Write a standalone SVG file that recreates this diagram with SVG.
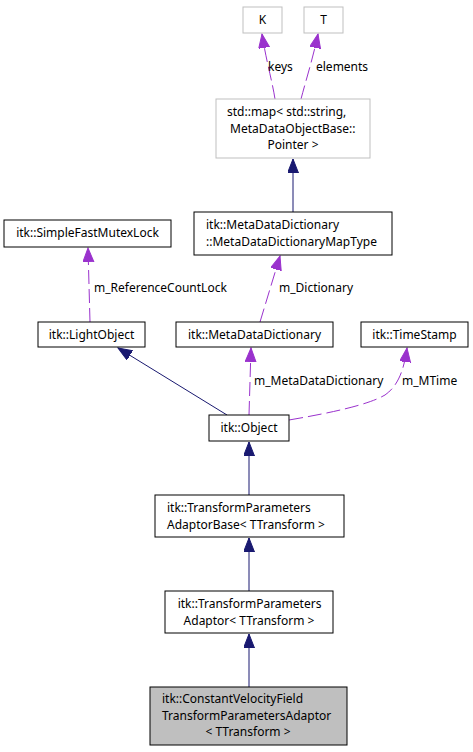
<svg xmlns="http://www.w3.org/2000/svg" width="473" height="752" viewBox="0 0 473 752">
<defs>
<style>
text{font-family:"Noto Sans","Open Sans","DejaVu Sans",sans-serif;font-size:12px;fill:#000}
.n rect{fill:#fff;stroke:#000;stroke-width:1}
.g rect{fill:#fff;stroke:#bfbfbf;stroke-width:1}
.m{text-anchor:middle}
.inh{fill:none;stroke:#191970;stroke-width:1}
.use{fill:none;stroke:#9a32cd;stroke-width:1;stroke-dasharray:14,5}
</style>
<marker id="an" markerUnits="userSpaceOnUse" markerWidth="15" markerHeight="12" refX="14" refY="5.5" orient="auto"><path d="M0,0 L14,5.5 L0,11 z" fill="#191970" stroke="#191970"/></marker>
<marker id="ap" markerUnits="userSpaceOnUse" markerWidth="15" markerHeight="12" refX="14" refY="5.5" orient="auto"><path d="M0,0 L14,5.5 L0,11 z" fill="#9a32cd" stroke="#9a32cd"/></marker>
</defs>
<g id="connectors">
<path class="use" d="M275,99 C272,80 266,60 262,34" marker-end="url(#ap)"/>
<path class="use" d="M301,99 C306,80 313,58 318,34" marker-end="url(#ap)"/>
<path class="inh" d="M293,212 L293,159" marker-end="url(#an)"/>
<path class="use" d="M90,322 L88,248" marker-end="url(#ap)"/>
<path class="use" d="M260,322 L280,256" marker-end="url(#ap)"/>
<path class="use" d="M249,415 L251,348" marker-end="url(#ap)"/>
<path class="use" d="M289,420 C330,413 368,405 385,395 C398,386 404,370 407,348" marker-end="url(#ap)"/>
<path class="inh" d="M227,415 L118,348" marker-end="url(#an)"/>
<path class="inh" d="M249,495 L249,442" marker-end="url(#an)"/>
<path class="inh" d="M249,591 L249,538" marker-end="url(#an)"/>
<path class="inh" d="M249,687 L249,634" marker-end="url(#an)"/>
</g>
<g id="labels">
<text x="268" y="71">keys</text>
<text x="316" y="71">elements</text>
<text x="94" y="292">m_ReferenceCountLock</text>
<text x="279" y="292">m_Dictionary</text>
<text x="254" y="385">m_MetaDataDictionary</text>
<text x="402" y="385">m_MTime</text>
</g>
<g id="nodeK" class="g"><rect x="243" y="7" width="39" height="26"/><text class="m" x="262.5" y="24">K</text></g>
<g id="nodeT" class="g"><rect x="304" y="7" width="39" height="26"/><text class="m" x="323.5" y="24">T</text></g>
<g id="nodeMap" class="g"><rect x="216" y="99" width="154" height="59"/>
<text x="227" y="116.1">std::map&lt; std::string,</text>
<text x="230" y="132.5">MetaDataObjectBase::</text>
<text class="m" x="293" y="148.9">Pointer &gt;</text></g>
<g id="nodeMapType" class="n"><rect x="194" y="212" width="198" height="43"/>
<text x="206" y="229.3">itk::MetaDataDictionary</text>
<text x="206" y="245.7">::MetaDataDictionaryMapType</text></g>
<g id="nodeMutex" class="n"><rect x="4" y="220" width="167" height="27"/><text class="m" x="87.5" y="237">itk::SimpleFastMutexLock</text></g>
<g id="nodeLight" class="n"><rect x="38" y="322" width="107" height="25"/><text class="m" x="91.5" y="339">itk::LightObject</text></g>
<g id="nodeMDD" class="n"><rect x="176" y="322" width="157" height="25"/><text class="m" x="254.5" y="339">itk::MetaDataDictionary</text></g>
<g id="nodeTime" class="n"><rect x="361" y="322" width="107" height="25"/><text class="m" x="414.5" y="339">itk::TimeStamp</text></g>
<g id="nodeObject" class="n"><rect x="209" y="415" width="80" height="26"/><text class="m" x="249" y="432">itk::Object</text></g>
<g id="nodeBase" class="n"><rect x="155" y="495" width="189" height="42"/>
<text x="167" y="512.3">itk::TransformParameters</text>
<text x="167" y="528.7">AdaptorBase&lt; TTransform &gt;</text></g>
<g id="nodeAdaptor" class="n"><rect x="165" y="591" width="168" height="42"/>
<text class="m" x="249.5" y="608.3">itk::TransformParameters</text>
<text class="m" x="249" y="624.7">Adaptor&lt; TTransform &gt;</text></g>
<g id="nodeConst" class="n"><rect x="150" y="687" width="197" height="58" style="fill:#bfbfbf"/>
<text x="162" y="703.4">itk::ConstantVelocityField</text>
<text x="162" y="719.8">TransformParametersAdaptor</text>
<text class="m" x="248" y="736.2">&lt; TTransform &gt;</text></g>
</svg>
